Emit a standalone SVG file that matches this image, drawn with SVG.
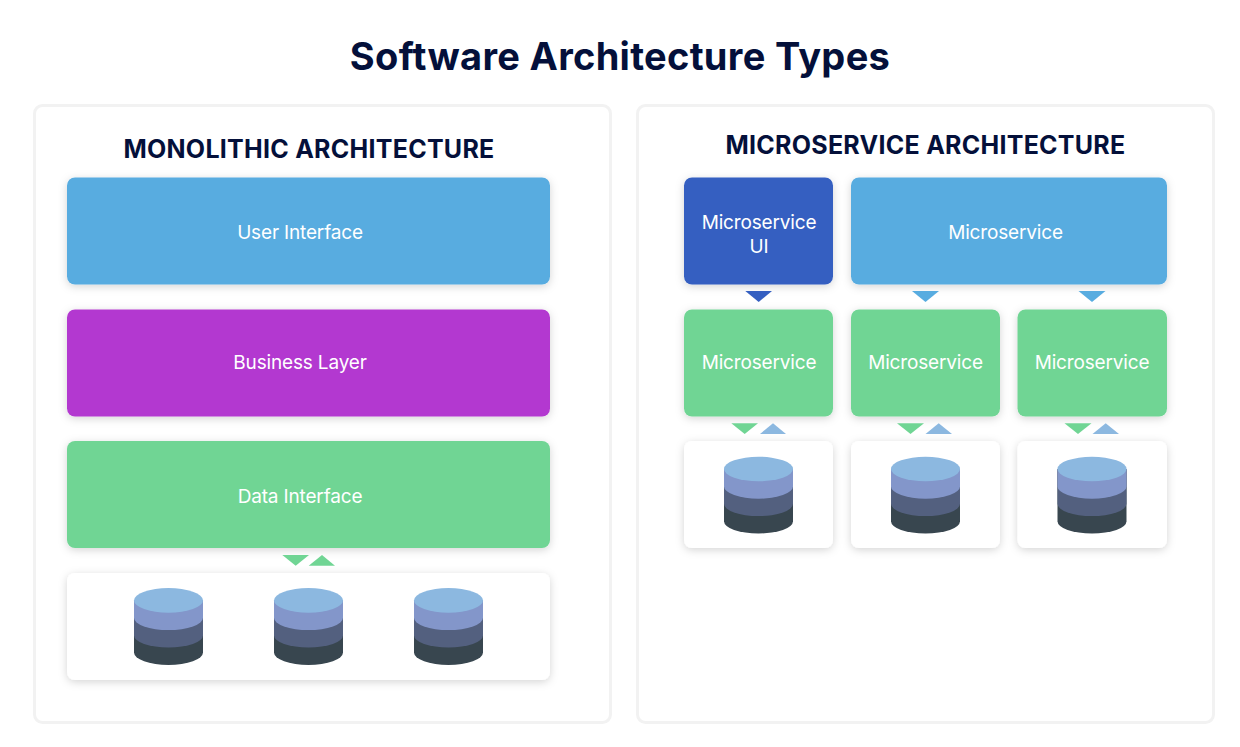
<svg xmlns="http://www.w3.org/2000/svg" width="1240" height="747" viewBox="0 0 1240 747">
<style>
text{font-family:Inter,"Liberation Sans",sans-serif;text-anchor:middle}
.title{font-size:38px;font-weight:700;fill:#04103a;letter-spacing:.3px}
.head{font-size:25px;font-weight:700;fill:#04103a;letter-spacing:.26px}
.lbl{font-size:19px;font-weight:400;fill:#fff;letter-spacing:-.16px}
.panel{fill:#fff;stroke:#f2f2f2;stroke-width:3}
.box{filter:url(#sh)}
.blue{fill:#58ace0}.dark{fill:#345fc1}.purple{fill:#b338d0}.green{fill:#70d594}.white{fill:#fff}.pale{fill:#8cb8e0}
</style>
<defs>
<filter id="sh" x="-10%" y="-15%" width="120%" height="135%"><feDropShadow dx="0" dy="2" stdDeviation="4" flood-color="#000" flood-opacity="0.17"/></filter>
<g id="cyl">
<path fill="#38464f" d="M-34.500 0V52.200A34.500 12.300 0 0 0 34.500 52.200V0Z"/>
<path fill="#53607f" d="M-34.500 0V34.800A34.500 12.300 0 0 0 34.500 34.800V0Z"/>
<path fill="#8396ca" d="M-34.500 0V17.400A34.500 12.300 0 0 0 34.500 17.400V0Z"/>
<ellipse fill="#8cb8e0" rx="34.500" ry="12.300"/>
</g>
</defs>
<rect width="1240" height="747" fill="#fff"/>
<text class="title" x="620" y="70">Software Architecture Types</text>
<g id="panel-monolithic">
<rect class="panel" x="34.500" y="105.500" width="576" height="617" rx="8"/>
<text class="head" x="309" y="158">MONOLITHIC ARCHITECTURE</text>
</g>
<g id="panel-microservice">
<rect class="panel" x="637.500" y="105.500" width="576" height="617" rx="8"/>
<text class="head" x="925.500" y="154">MICROSERVICE ARCHITECTURE</text>
</g>
<g id="user-interface"><rect class="box blue" x="67" y="177.500" width="483" height="107" rx="8"/><text class="lbl" x="300" y="238.500">User Interface</text></g>
<g id="business-layer"><rect class="box purple" x="67" y="309.500" width="483" height="107" rx="8"/><text class="lbl" x="300" y="368.500">Business Layer</text></g>
<g id="data-interface"><rect class="box green" x="67" y="441" width="483" height="107" rx="8"/><text class="lbl" x="300" y="502.500">Data Interface</text></g>
<g id="mono-databases"><rect class="box white" x="67" y="573" width="483" height="107" rx="8"/>
<use href="#cyl" x="168.500" y="600.400"/><use href="#cyl" x="308.500" y="600.400"/><use href="#cyl" x="448.500" y="600.400"/></g>
<g id="ms-ui"><rect class="box dark" x="684" y="177.500" width="149" height="107" rx="8"/><text class="lbl" x="759" y="229">Microservice</text><text class="lbl" x="759" y="253">UI</text></g>
<g id="ms-top"><rect class="box blue" x="851" y="177.500" width="316" height="107" rx="8"/><text class="lbl" x="1005.500" y="238.500">Microservice</text></g>
<g id="ms-1"><rect class="box green" x="684" y="309.500" width="149" height="107" rx="8"/><text class="lbl" x="759" y="368.500">Microservice</text></g>
<g id="ms-2"><rect class="box green" x="851" y="309.500" width="149" height="107" rx="8"/><text class="lbl" x="925.500" y="368.500">Microservice</text></g>
<g id="ms-3"><rect class="box green" x="1017.500" y="309.500" width="149.500" height="107" rx="8"/><text class="lbl" x="1092" y="368.500">Microservice</text></g>
<g id="db-1"><rect class="box white" x="684" y="441" width="149" height="107" rx="8"/><use href="#cyl" x="758.500" y="469"/></g>
<g id="db-2"><rect class="box white" x="851" y="441" width="149" height="107" rx="8"/><use href="#cyl" x="925.500" y="469"/></g>
<g id="db-3"><rect class="box white" x="1017.500" y="441" width="149.500" height="107" rx="8"/><use href="#cyl" x="1092" y="469"/></g>
<g id="connectors">
<polygon class="green" points="282.300,555 309,555 295.700,565.700"/>
<polygon class="green" points="308.700,565.700 335,565.700 322,555"/>
<polygon class="dark" points="745.300,291 772,291 758.700,302"/>
<polygon class="blue" points="912,291 939,291 925.500,302"/>
<polygon class="blue" points="1078.500,291 1105.500,291 1092,302"/>
<polygon class="green" points="731.300,423.300 758,423.300 744.700,434"/>
<polygon class="pale" points="760,434 786,434 773,423.300"/>
<polygon class="green" points="897,423.300 924,423.300 910.500,434"/>
<polygon class="pale" points="925.500,434 952,434 938.700,423.300"/>
<polygon class="green" points="1064.500,423.300 1091.500,423.300 1078,434"/>
<polygon class="pale" points="1092.500,434 1119,434 1105.700,423.300"/>
</g>
</svg>
